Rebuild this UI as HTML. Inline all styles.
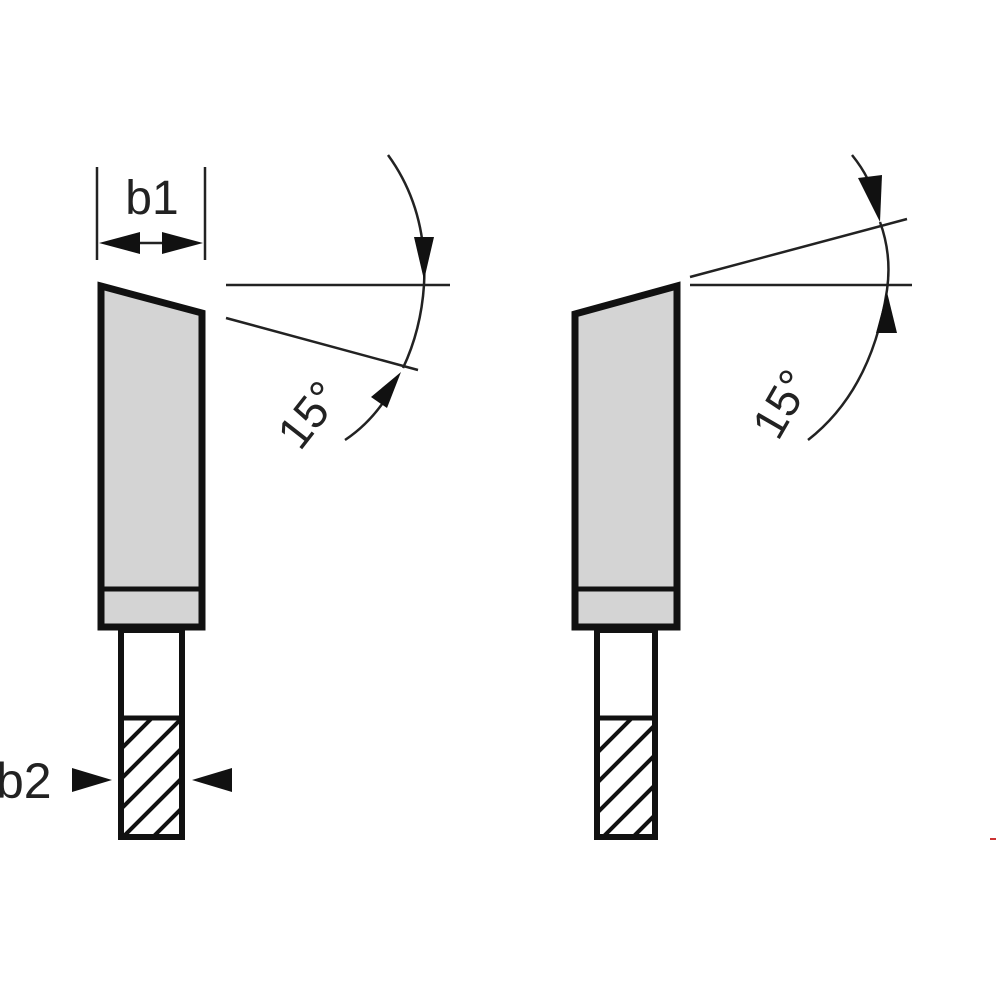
<!DOCTYPE html>
<html><head><style>html,body{margin:0;padding:0;background:#fff;}svg{display:block}</style></head>
<body>
<svg width="1000" height="1000" viewBox="0 0 1000 1000" xmlns="http://www.w3.org/2000/svg" font-family="Liberation Sans, Arial, sans-serif">
<defs>
<clipPath id="c1"><rect x="121" y="718" width="61" height="120"/></clipPath>
<clipPath id="c2"><rect x="597" y="718" width="58" height="120"/></clipPath>
</defs>
<rect width="1000" height="1000" fill="#fff"/>
<!-- LEFT tooth -->
<polygon points="101,286 202,313 202,627 101,627" fill="#d4d4d4" stroke="#111" stroke-width="7" stroke-linejoin="miter"/>
<line x1="101" y1="589" x2="202" y2="589" stroke="#111" stroke-width="5"/>
<rect x="121" y="630" width="61" height="207" fill="#fff" stroke="#111" stroke-width="6"/>
<line x1="121" y1="718" x2="182" y2="718" stroke="#111" stroke-width="5"/>
<g clip-path="url(#c1)" stroke="#111" stroke-width="4">
<line x1="100" y1="770" x2="200" y2="670"/>
<line x1="100" y1="800" x2="200" y2="700"/>
<line x1="100" y1="830" x2="200" y2="730"/>
<line x1="100" y1="860" x2="200" y2="760"/>
<line x1="100" y1="890" x2="200" y2="790"/>
<line x1="100" y1="920" x2="200" y2="820"/>
<line x1="100" y1="950" x2="200" y2="850"/>
</g>
<!-- b1 dimension -->
<line x1="97" y1="167" x2="97" y2="260" stroke="#222" stroke-width="2.5"/>
<line x1="205" y1="167" x2="205" y2="260" stroke="#222" stroke-width="2.5"/>
<line x1="120" y1="243" x2="180" y2="243" stroke="#222" stroke-width="2.5"/>
<polygon points="99,243 140,232 140,254" fill="#111"/>
<polygon points="203,243 162,232 162,254" fill="#111"/>
<text x="152" y="214" font-size="48" text-anchor="middle" fill="#222">b1</text>
<!-- left angle -->
<line x1="226" y1="285" x2="450" y2="285" stroke="#222" stroke-width="2.5"/>
<line x1="226" y1="318" x2="418" y2="370" stroke="#222" stroke-width="2.5"/>
<path d="M388,155 Q428,210 424,285 Q421,330 403,368" fill="none" stroke="#222" stroke-width="2.5"/>
<polygon points="414,237 434,237 424,280" fill="#111"/>
<path d="M345,440 Q372,422 390,392" fill="none" stroke="#222" stroke-width="2.5"/>
<polygon points="401,372 371,397 387,408" fill="#111"/>
<text x="0" y="0" font-size="46" fill="#222" transform="translate(300,452) rotate(-52)">15°</text>
<!-- b2 -->
<text x="-4" y="798" font-size="50" fill="#222">b2</text>
<polygon points="112,780 72,768 72,792" fill="#111"/>
<polygon points="192,780 232,768 232,792" fill="#111"/>
<!-- RIGHT tooth -->
<polygon points="575,314 677,286 677,627 575,627" fill="#d4d4d4" stroke="#111" stroke-width="7" stroke-linejoin="miter"/>
<line x1="575" y1="589" x2="677" y2="589" stroke="#111" stroke-width="5"/>
<rect x="597" y="630" width="58" height="207" fill="#fff" stroke="#111" stroke-width="6"/>
<line x1="597" y1="718" x2="655" y2="718" stroke="#111" stroke-width="5"/>
<g clip-path="url(#c2)" stroke="#111" stroke-width="4">
<line x1="580" y1="770" x2="680" y2="670"/>
<line x1="580" y1="800" x2="680" y2="700"/>
<line x1="580" y1="830" x2="680" y2="730"/>
<line x1="580" y1="860" x2="680" y2="760"/>
<line x1="580" y1="890" x2="680" y2="790"/>
<line x1="580" y1="920" x2="680" y2="820"/>
<line x1="580" y1="950" x2="680" y2="850"/>
</g>
<!-- right angle -->
<line x1="690" y1="285" x2="912" y2="285" stroke="#222" stroke-width="2.5"/>
<line x1="690" y1="277" x2="907" y2="219" stroke="#222" stroke-width="2.5"/>
<path d="M852,155 Q872,180 874,200" fill="none" stroke="#222" stroke-width="2.5"/>
<polygon points="858,178 882,175 880,222" fill="#111"/>
<path d="M880,222 Q892,255 887,290 Q872,390 808,440" fill="none" stroke="#222" stroke-width="2.5"/>
<polygon points="887,292 876,333 897,333" fill="#111"/>
<text x="0" y="0" font-size="46" fill="#222" transform="translate(778,442) rotate(-60)">15°</text>
<rect x="990" y="838" width="6" height="2" fill="#c33"/>
</svg>
</body></html>
